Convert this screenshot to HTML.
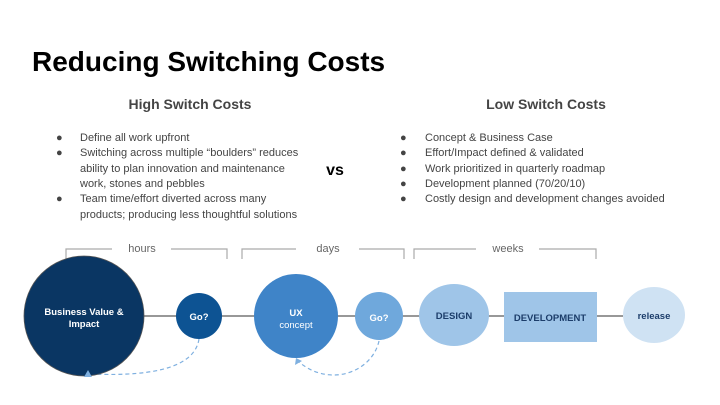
<!DOCTYPE html>
<html><head><meta charset="utf-8"><style>
html,body{margin:0;padding:0;background:#fff;}
svg{display:block;font-family:"Liberation Sans",Arial,sans-serif;}
</style></head><body>
<svg width="720" height="405" viewBox="0 0 720 405" xmlns="http://www.w3.org/2000/svg">
<rect width="720" height="405" fill="#fff"/>
<text x="32" y="71" font-size="28" font-weight="bold" fill="#000">Reducing Switching Costs</text>
<text x="190" y="109" font-size="14" font-weight="bold" fill="#444" text-anchor="middle">High Switch Costs</text>
<text x="546" y="109" font-size="14" font-weight="bold" fill="#444" text-anchor="middle">Low Switch Costs</text>
<text x="335" y="175" font-size="16" font-weight="bold" fill="#000" text-anchor="middle">vs</text>
<g font-size="11" fill="#444">
<text x="56" y="141">●</text><text x="80" y="141">Define all work upfront</text>
<text x="56" y="156">●</text><text x="80" y="156">Switching across multiple “boulders” reduces</text>
<text x="80" y="172">ability to plan innovation and maintenance</text>
<text x="80" y="187">work, stones and pebbles</text>
<text x="56" y="202">●</text><text x="80" y="202">Team time/effort diverted across many</text>
<text x="80" y="218">products; producing less thoughtful solutions</text>
<text x="400" y="141">●</text><text x="425" y="141">Concept &amp; Business Case</text>
<text x="400" y="156">●</text><text x="425" y="156">Effort/Impact defined &amp; validated</text>
<text x="400" y="172">●</text><text x="425" y="172">Work prioritized in quarterly roadmap</text>
<text x="400" y="187">●</text><text x="425" y="187">Development planned (70/20/10)</text>
<text x="400" y="202">●</text><text x="425" y="202">Costly design and development changes avoided</text>
</g>
<g fill="none" stroke="#aaa" stroke-width="1.2">
<path d="M66 259 V249 H112 M171 249 H227 V259"/>
<path d="M242 259 V249 H296 M359 249 H404 V259"/>
<path d="M414 259 V249 H476 M539 249 H596 V259"/>
</g>
<g font-size="11" fill="#666" text-anchor="middle">
<text x="142" y="252">hours</text><text x="328" y="252">days</text><text x="508" y="252">weeks</text>
</g>
<line x1="144" y1="316" x2="623" y2="316" stroke="#777" stroke-width="1.5"/>
<g fill="none" stroke="#7fb0e0" stroke-width="1.2" stroke-dasharray="4,3">
<path d="M199 339 C195 365 160 377 90 374"/>
<path d="M379 341 C372 372 330 388 299 362"/>
</g>
<circle cx="84" cy="316" r="60" fill="#0a3663" stroke="#555" stroke-width="0.8"/>
<polygon points="84,377 92,377 88,370" fill="#7fb0e0"/>
<polygon points="295,365 302,361 296,358" fill="#7fb0e0"/>
<circle cx="199" cy="316" r="23" fill="#0d5393"/>
<circle cx="296" cy="316" r="42" fill="#3f84c8"/>
<circle cx="379" cy="316" r="24" fill="#6fa8dc"/>
<ellipse cx="454" cy="315" rx="35" ry="31" fill="#9fc5e8"/>
<rect x="504" y="292" width="93" height="50" fill="#9fc5e8"/>
<ellipse cx="654" cy="315" rx="31" ry="28" fill="#cfe2f3"/>
<g font-size="9.5" font-weight="bold" text-anchor="middle">
<text x="84" y="315" fill="#fff">Business Value &amp;</text>
<text x="84" y="327" fill="#fff">Impact</text>
<text x="199" y="320" fill="#fff">Go?</text>
<text x="296" y="316" fill="#fff">UX</text>
<text x="296" y="328" fill="#fff" font-weight="normal">concept</text>
<text x="379" y="321" fill="#fff">Go?</text>
<text x="454" y="319" fill="#1c3d6a">DESIGN</text>
<text x="550" y="321" fill="#1c3d6a">DEVELOPMENT</text>
<text x="654" y="319" fill="#1c3d6a">release</text>
</g>
</svg>
</body></html>
